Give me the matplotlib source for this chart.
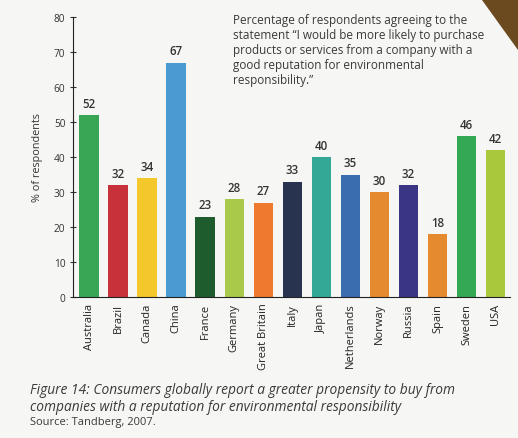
import matplotlib.pyplot as plt
from matplotlib.patches import Polygon

plt.rcParams['font.family'] = ['Open Sans', 'DejaVu Sans']

paises = ["Australia", "Brazil", "Canada", "China", "France", "Germany",
          "Great Britain", "Italy", "Japan", "Netherlands", "Norway",
          "Russia", "Spain", "Sweden", "USA"]
valores = [52, 32, 34, 67, 23, 28, 27, 33, 40, 35, 30, 32, 18, 46, 42]
cores = ["#38a652", "#c8303a", "#f4c82a", "#4b9bd2", "#1f5c2d", "#a9c94b",
         "#ef7a2f", "#28344f", "#34a897", "#3a6db0", "#e58a2e", "#3a3584",
         "#e58a2e", "#34a853", "#a9c93d"]
y_ticks = [0, 10, 20, 30, 40, 50, 60, 70, 80]

texto = ("Percentage of respondents agreeing to the\n"
         "statement \u201cI would be more likely to purchase\n"
         "products or services from a company with a\n"
         "good reputation for environmental\n"
         "responsibility.\u201d")
legenda = ("Figure 14: Consumers globally report a greater propensity to buy from\n"
           "companies with a reputation for environmental responsibility")
fonte = "Source: Tandberg, 2007."

fig = plt.figure(figsize=(5.18, 4.39), dpi=100)
fig.patch.set_facecolor("#f6f6f4")
ax = fig.add_axes([0.141, 0.321, 0.844, 0.638])
ax.set_facecolor("#f6f6f4")

x = range(len(paises))
ax.bar(x, valores, width=0.67, color=cores, zorder=2)
for i, v in enumerate(valores):
    ax.text(i, v + 1.5, str(v), ha="center", va="bottom", fontsize=8.3,
            color="#333333", fontweight="semibold")

ax.set_xlim(-0.55, 14.5)
ax.set_ylim(0, 80)
ax.set_yticks(y_ticks)
ax.set_xticks(list(x))
ax.set_xticklabels(paises, rotation=90, fontsize=8, color="#222222")
ax.tick_params(axis="y", labelsize=7.3, length=4, direction="inout",
               colors="#333333", width=0.8)
ax.tick_params(axis="x", length=0, pad=4)
for s in ["top", "right"]:
    ax.spines[s].set_visible(False)
ax.spines["left"].set_color("#222222")
ax.spines["bottom"].set_color("#222222")
ax.set_ylabel("% of respondents", fontsize=7.8, color="#333333", labelpad=8)

fig.text(233 / 518, 1 - 14 / 439, texto, ha="left", va="top", fontsize=8.5,
         color="#3a3a3a", linespacing=1.2)
fig.text(30 / 518, 1 - 383 / 439, legenda, ha="left", va="top", fontsize=9.9,
         style="italic", color="#3a3a3a", linespacing=1.15)
fig.text(30 / 518, 1 - 417 / 439, fonte, ha="left", va="top", fontsize=8,
         color="#3a3a3a")

# canto marrom da pagina
canto = Polygon([(482 / 518, 1), (1, 1), (1, 1 - 50 / 439)],
                closed=True, transform=fig.transFigure, color="#6b4a1f")
fig.patches.append(canto)

fig.savefig("out.png", dpi=100, facecolor=fig.get_facecolor())
